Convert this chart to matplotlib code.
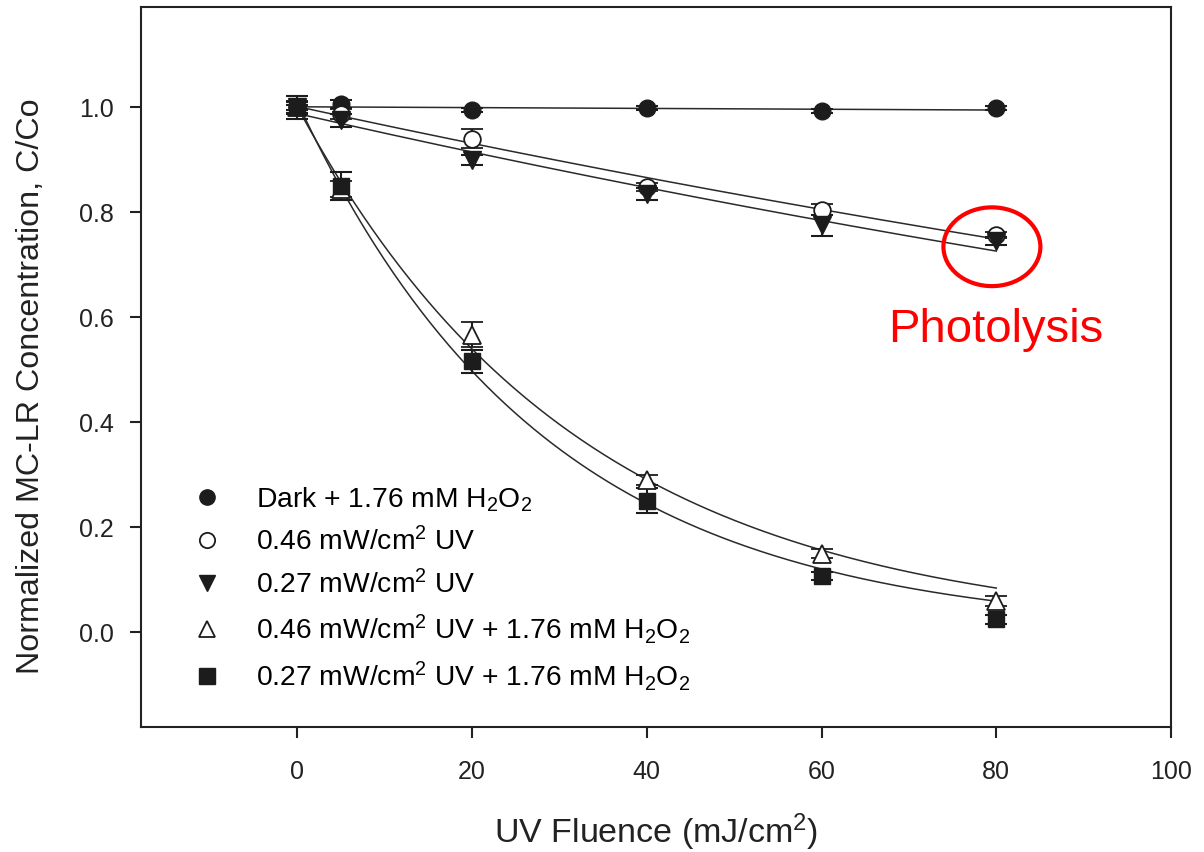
import numpy as np
import matplotlib
matplotlib.use("Agg")
import matplotlib.pyplot as plt
from matplotlib.lines import Line2D
from matplotlib.patches import Ellipse

plt.rcParams["font.family"] = ["Liberation Sans", "DejaVu Sans"]
plt.rcParams["mathtext.fontset"] = "custom"
plt.rcParams["mathtext.rm"] = "Liberation Sans"
plt.rcParams["mathtext.it"] = "Liberation Sans:italic"
plt.rcParams["mathtext.bf"] = "Liberation Sans:bold"

# UV fluence (mJ/cm2)
fluence = [0, 5, 20, 40, 60, 80]

# Normalized MC-LR concentration C/Co and standard deviations
dark_h2o2 = [1.000, 1.006, 0.995, 0.998, 0.993, 0.998]
dark_h2o2_err = [0.005, 0.008, 0.004, 0.004, 0.004, 0.004]

uv046 = [1.000, 0.987, 0.940, 0.848, 0.805, 0.757]
uv046_err = [0.012, 0.010, 0.018, 0.008, 0.010, 0.006]

uv027 = [1.000, 0.975, 0.900, 0.835, 0.775, 0.745]
uv027_err = [0.010, 0.012, 0.010, 0.012, 0.020, 0.008]

uv046_h2o2 = [1.000, 0.845, 0.567, 0.290, 0.150, 0.060]
uv046_h2o2_err = [0.012, 0.015, 0.024, 0.010, 0.008, 0.010]

uv027_h2o2 = [1.000, 0.850, 0.516, 0.251, 0.108, 0.025]
uv027_h2o2_err = [0.022, 0.027, 0.022, 0.024, 0.008, 0.008]

labels = [
    r"Dark + 1.76 mM H$_2$O$_2$",
    r"0.46 mW/cm$^2$ UV",
    r"0.27 mW/cm$^2$ UV",
    r"0.46 mW/cm$^2$ UV + 1.76 mM H$_2$O$_2$",
    r"0.27 mW/cm$^2$ UV + 1.76 mM H$_2$O$_2$",
]


def exp_fit(x, y, iters=50):
    """Least-squares fit of C = a * exp(-k x) (Gauss-Newton)."""
    x = np.asarray(x, float)
    y = np.asarray(y, float)
    slope, inter = np.polyfit(x, np.log(y), 1, w=y)
    a, k = np.exp(inter), -slope
    for _ in range(iters):
        e = np.exp(-k * x)
        r = y - a * e
        J = np.column_stack([e, -a * x * e])
        step, *_ = np.linalg.lstsq(J, r, rcond=None)
        a += step[0]
        k += step[1]
    return a, k


ink = "#1c1c1c"
series = [
    (dark_h2o2, dark_h2o2_err, dict(marker="o", mfc=ink, mec=ink, ms=12)),
    (uv046, uv046_err, dict(marker="o", mfc="white", mec=ink, ms=12, mew=1.3)),
    (uv027, uv027_err, dict(marker="v", mfc=ink, mec=ink, ms=13)),
    (uv046_h2o2, uv046_h2o2_err, dict(marker="^", mfc="white", mec=ink, ms=13, mew=1.3)),
    (uv027_h2o2, uv027_h2o2_err, dict(marker="s", mfc=ink, mec=ink, ms=12)),
]

fig = plt.figure(figsize=(12.04, 8.52), dpi=100)
ax = fig.add_axes([141 / 1204, 1 - 727 / 852, 1030 / 1204, 720 / 852])

xfit = np.linspace(0, 80, 300)
for vals, err, style in series:
    a, k = exp_fit(fluence, vals)
    ax.plot(xfit, a * np.exp(-k * xfit), color="#2a2a2a", lw=1.1, zorder=2)

for vals, err, style in series:
    ax.errorbar(fluence, vals, yerr=err, ls="none", ecolor=ink, elinewidth=1.5,
                capsize=8, capthick=1.5, zorder=3, **style)

# Legend (markers only)
handles = []
for vals, err, style in series:
    st = dict(style)
    st["ms"] = st["ms"] - 1
    handles.append(Line2D([], [], ls="none", **st))
ax.legend(handles, labels, loc="upper left",
          bbox_to_anchor=((193 - 141) / 1030, 1 - (485 - 7) / 720),
          frameon=False, fontsize=20.3, handlelength=1.0, handletextpad=1.25,
          labelspacing=0.48, borderpad=0, borderaxespad=0)

# Photolysis annotation
ax.add_patch(Ellipse((79.5, 0.7345), 11.1, 0.150, fill=False,
                     edgecolor="#ff0000", lw=3, zorder=5))
ax.text(67.6, 0.5535, "Photolysis", color="#ff0000", fontsize=34,
        ha="left", va="baseline")

ax.set_xlim(-17.9, 100)
ax.set_ylim(-0.180, 1.191)
ax.set_xticks([0, 20, 40, 60, 80, 100])
ax.set_yticks([0.0, 0.2, 0.4, 0.6, 0.8, 1.0])
ax.set_yticklabels(["0.0", "0.2", "0.4", "0.6", "0.8", "1.0"])

for sp in ax.spines.values():
    sp.set_linewidth(1.5)
    sp.set_color("#222222")
ax.tick_params(axis="both", direction="out", length=7.7, width=1.5,
               color="#222222", labelsize=18, labelcolor="#222222")
ax.tick_params(axis="x", pad=16)
ax.tick_params(axis="y", pad=12)

ax.set_xlabel(r"UV Fluence (mJ/cm$^2$)", fontsize=24.5, color="#222222")
ax.set_ylabel("Normalized MC-LR Concentration, C/Co", fontsize=23.2,
              color="#222222")
ax.xaxis.set_label_coords(0.5, -0.118)
ax.yaxis.set_label_coords(-0.092, 0.474)

fig.savefig("out.png", dpi=100)
